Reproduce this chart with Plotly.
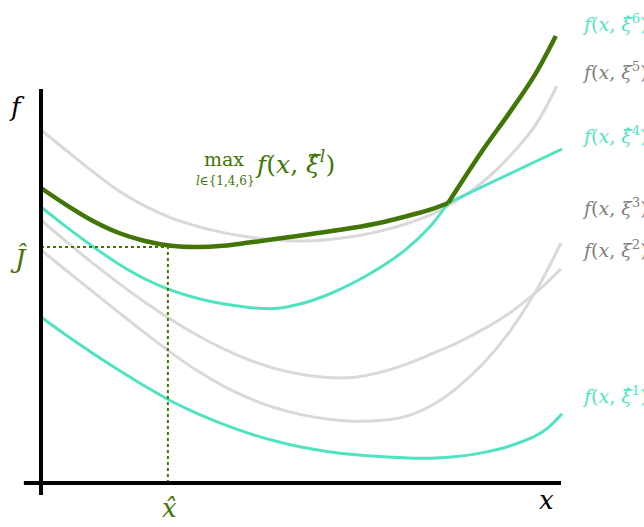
import plotly.graph_objects as go

# ---- sampled scenario curves f(x, xi^l) on a common x grid ----
x_grid = [0, 0.5, 1, 1.5, 2, 2.5, 3, 3.5, 4, 4.5, 5, 5.5, 6, 6.5, 7, 7.5, 8, 8.5, 9, 9.5, 10]

x_s1 = x_grid[:-1] + [9.75, 10.02]
f_s1 = [4.15, 3.68, 3.24, 2.82, 2.42, 2.05, 1.74, 1.47, 1.24, 1.05, 0.90,
        0.79, 0.71, 0.66, 0.63, 0.62, 0.66, 0.76, 0.92, 1.17, 1.38, 1.73]

x_s2 = x_grid
f_s2 = [6.575, 6.02, 5.49, 4.99, 4.52, 4.09, 3.70, 3.36, 3.08, 2.86, 2.72,
        2.64, 2.64, 2.76, 2.96, 3.22, 3.50, 3.84, 4.24, 4.74, 5.35]

x_s3 = x_grid
f_s3 = [5.825, 5.30, 4.78, 4.26, 3.75, 3.26, 2.81, 2.43, 2.12, 1.88, 1.71,
        1.60, 1.545, 1.56, 1.66, 1.93, 2.38, 2.98, 3.76, 4.76, 6.00]

x_s4 = x_grid[:16] + [7.83, 10.02]
f_s4 = [6.90, 6.39, 5.91, 5.47, 5.10, 4.82, 4.62, 4.48, 4.39, 4.36, 4.48,
        4.70, 5.00, 5.37, 5.82, 6.44, 7.00, 8.35]

x_s5 = x_grid[:-1] + [9.92]
f_s5 = [8.825, 8.30, 7.78, 7.30, 6.92, 6.63, 6.42, 6.26, 6.15, 6.08, 6.05,
        6.08, 6.16, 6.29, 6.47, 6.71, 7.06, 7.53, 8.15, 8.93, 9.925]

# upper envelope over the selected scenarios {1, 4, 6}
x_max = x_grid[:16] + [7.83, 8.5, 9.0, 9.5, 9.9]
f_max = [7.375, 6.94, 6.55, 6.25, 6.05, 5.93, 5.90, 5.93, 6.01, 6.10, 6.19,
         6.28, 6.38, 6.50, 6.66, 6.84, 7.00, 8.33, 9.24, 10.21, 11.175]

x_kink = 7.83          # where the envelope switches branch
x_hat, J_hat = 2.44, 5.90

X_AXIS = (-0.33, 10.0)
Y_AXIS = (-0.3, 9.85)

TEAL = "#50E3C2"
GREEN = "#417505"
GRAY = "#D9D9D9"
GRAY_TXT = "#7F7F7F"
FONT = "DejaVu Serif"

fig = go.Figure()


def add_curve(xs, ys, color, width, kink=None):
    """Smooth curve; split at a kink so the corner stays sharp."""
    parts = [(xs, ys)]
    if kink is not None:
        i = xs.index(kink)
        parts = [(xs[: i + 1], ys[: i + 1]), (xs[i:], ys[i:])]
    for px, py in parts:
        fig.add_trace(go.Scatter(
            x=px, y=py, mode="lines",
            line=dict(color=color, width=width, shape="spline", smoothing=1.0),
            hoverinfo="skip", showlegend=False))


add_curve(x_s5, f_s5, GRAY, 3)
add_curve(x_s2, f_s2, GRAY, 3)
add_curve(x_s3, f_s3, GRAY, 3)
add_curve(x_s1, f_s1, TEAL, 3)
add_curve(x_s4, f_s4, TEAL, 3, kink=x_kink)

# dotted guides to the minimiser
fig.add_trace(go.Scatter(x=[0, x_hat, x_hat], y=[J_hat, J_hat, 0], mode="lines",
                         line=dict(color=GREEN, width=2, dash="dot"),
                         hoverinfo="skip", showlegend=False))

add_curve(x_max, f_max, GREEN, 4.5, kink=x_kink)

# axes
fig.add_trace(go.Scatter(x=list(X_AXIS), y=[0, 0], mode="lines",
                         line=dict(color="black", width=4),
                         hoverinfo="skip", showlegend=False))
fig.add_trace(go.Scatter(x=[0, 0], y=list(Y_AXIS), mode="lines",
                         line=dict(color="black", width=4),
                         hoverinfo="skip", showlegend=False))

ann = []


def text(x, y, s, color, size, xanchor="center", yanchor="middle"):
    ann.append(dict(x=x, y=y, xref="x", yref="y", text=s, showarrow=False,
                    xanchor=xanchor, yanchor=yanchor,
                    font=dict(family=FONT, size=size, color=color)))


text(-0.46, 9.4, "<i>f</i>", "black", 26)
text(9.73, -0.42, "<i>x</i>", "black", 26)
text(-0.44, 5.62, "<i>Ĵ</i>", GREEN, 26)
text(x_hat + 0.04, -0.62, "<i>x̂</i>", GREEN, 26)

text(3.52, 8.1, "max", GREEN, 19)
text(3.54, 7.55, "<i>l</i>∈{1,4,6}", GREEN, 12)
text(4.08, 8.02, "<i>f</i>(<i>x</i>, <i>ξ̂</i><sup><i>l</i></sup>)", GREEN, 25, xanchor="left")

lx = 10.37
text(lx, 11.5, "<i>f</i>(<i>x</i>, <i>ξ̂</i><sup>6</sup>)", TEAL, 19, xanchor="left")
text(lx, 10.3, "<i>f</i>(<i>x</i>, <i>ξ</i><sup>5</sup>)", GRAY_TXT, 19, xanchor="left")
text(lx, 8.7, "<i>f</i>(<i>x</i>, <i>ξ̂</i><sup>4</sup>)", TEAL, 19, xanchor="left")
text(lx, 6.9, "<i>f</i>(<i>x</i>, <i>ξ</i><sup>3</sup>)", GRAY_TXT, 19, xanchor="left")
text(lx, 5.85, "<i>f</i>(<i>x</i>, <i>ξ</i><sup>2</sup>)", GRAY_TXT, 19, xanchor="left")
text(lx, 2.2, "<i>f</i>(<i>x</i>, <i>ξ̂</i><sup>1</sup>)", TEAL, 19, xanchor="left")

fig.update_layout(
    width=644, height=527,
    margin=dict(l=0, r=0, t=0, b=0),
    paper_bgcolor="white", plot_bgcolor="white",
    xaxis=dict(range=[-41 / 52, 603 / 52], visible=False, fixedrange=True),
    yaxis=dict(range=[-44 / 40, 483 / 40], visible=False, fixedrange=True),
    annotations=ann,
    showlegend=False,
)

fig.write_html("out.html")
